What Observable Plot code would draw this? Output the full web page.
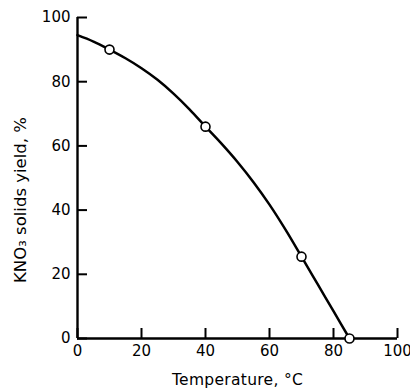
<!DOCTYPE html>
<html>
<head>
<meta charset="utf-8">
<script src="https://cdn.jsdelivr.net/npm/d3@7"></script>
<script src="https://cdn.jsdelivr.net/npm/@observablehq/plot@0.6"></script>
<style>
  html, body { margin: 0; padding: 0; background: #fff; }
</style>
</head>
<body>
<div id="chart"></div>
<script>
// Measured points (temperature °C, KNO3 solids yield %)
const pointTemp = [10, 40, 70, 85];
const pointYield = [90, 66, 25.5, 0];

// Smooth curve
const curveTemp  = [0, 5, 10, 15, 20, 25, 30, 35, 40, 45, 50, 55, 60, 65, 70, 75, 80, 85];
const curveYield = [94.5, 92.5, 90, 87.3, 84.2, 80.6, 76.3, 71.4, 66, 60.7, 55, 48.7, 41.7, 33.9, 25.5, 17, 8.5, 0];

const xTicks = [0, 20, 40, 60, 80, 100];
const yTicks = [0, 20, 40, 60, 80, 100];
const xLabel = "Temperature, °C";
const yLabel = "KNO₃ solids yield, %";

const points = pointTemp.map((t, i) => ({t, y: pointYield[i]}));
const curve = curveTemp.map((t, i) => ({t, y: curveYield[i]}));

const chart = Plot.plot({
  width: 410,
  height: 389,
  marginLeft: 77,
  marginRight: 13,
  marginTop: 17,
  marginBottom: 51,
  style: {fontFamily: "DejaVu Sans", color: "#000", background: "#fff"},
  x: {domain: [0, 100]},
  y: {domain: [0, 100]},
  marks: [
    Plot.axisX({ticks: xTicks, tickSize: -10, tickPadding: 17, strokeWidth: 2,
      label: xLabel, labelAnchor: "center", labelArrow: "none", labelOffset: 46}),
    Plot.axisY({ticks: yTicks, tickSize: -10, tickPadding: 17, strokeWidth: 2, label: null}),
    Plot.text([yLabel], {frameAnchor: "left", rotate: -90, dx: -57, dy: 22, fontSize: 16.5,
      textAnchor: "middle", ariaLabel: "y-axis label"}),
    Plot.ruleX([0], {strokeWidth: 2.4}),
    Plot.ruleY([0], {strokeWidth: 2.4}),
    Plot.line(curve, {x: "t", y: "y", curve: "monotone-x", stroke: "#000", strokeWidth: 2.5}),
    Plot.dot(points, {x: "t", y: "y", r: 4.5, fill: "#fff", stroke: "#000", strokeWidth: 1.6})
  ]
});
document.getElementById("chart").appendChild(chart);

const svg = d3.select(chart);
svg.selectAll('g[aria-label="x-axis tick label"] text, g[aria-label="y-axis tick label"] text')
  .style("font-size", "15px");
svg.selectAll('g[aria-label="x-axis label"] text')
  .style("font-size", "15.5px").style("letter-spacing", "0.3px");
svg.selectAll('g[aria-label="y-axis label"] text').style("letter-spacing", "0.8px");

// Render the "3" of KNO3 as a true subscript
svg.selectAll('g[aria-label="y-axis label"] text').each(function () {
  const t = d3.select(this);
  const s = t.text();
  const i = s.indexOf("₃");
  if (i < 0) return;
  t.text(null);
  t.append("tspan").text(s.slice(0, i));
  t.append("tspan").attr("dy", "0.3em").attr("font-size", "0.8em").text("3");
  t.append("tspan").attr("dy", "-0.3em").text(s.slice(i + 1));
});
</script>
</body>
</html>
